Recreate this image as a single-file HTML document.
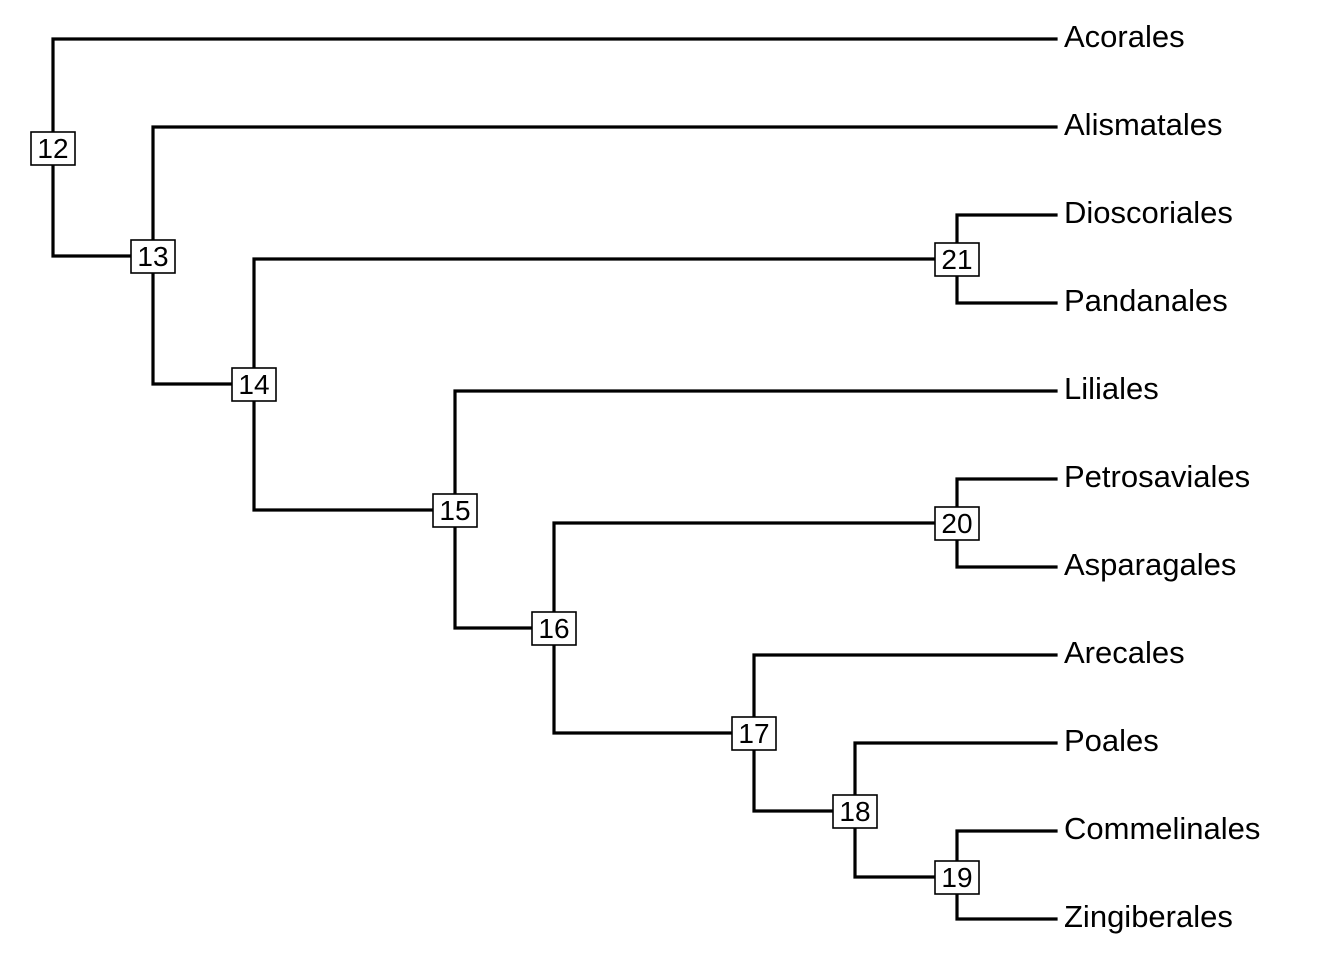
<!DOCTYPE html>
<html><head><meta charset="utf-8"><style>html,body{margin:0;padding:0;background:#fff}</style></head>
<body>
<svg width="1344" height="960" xmlns="http://www.w3.org/2000/svg">
<g stroke="#000" stroke-width="3.2" fill="none" stroke-linecap="square">
<path d="M1056,39 H53 V256 H153"/>
<path d="M1056,127 H153 V384 H254"/>
<path d="M956,259 H254 V510 H455"/>
<path d="M1056,215 H957 V303 H1056"/>
<path d="M1056,391 H455 V628 H554"/>
<path d="M956,523 H554 V733 H754"/>
<path d="M1056,479 H957 V567 H1056"/>
<path d="M1056,655 H754 V811 H855"/>
<path d="M1056,743 H855 V877 H957"/>
<path d="M1056,831 H957 V919 H1056"/>
</g>
<g font-family="Liberation Sans, sans-serif" font-size="28" text-anchor="middle">
<g fill="#fff" stroke="#000" stroke-width="1.6">
<rect x="31" y="132" width="44" height="33"/>
<rect x="131" y="240" width="44" height="33"/>
<rect x="232" y="368" width="44" height="33"/>
<rect x="433" y="494" width="44" height="33"/>
<rect x="532" y="612" width="44" height="33"/>
<rect x="732" y="717" width="44" height="33"/>
<rect x="833" y="795" width="44" height="33"/>
<rect x="935" y="861" width="44" height="33"/>
<rect x="935" y="507" width="44" height="33"/>
<rect x="935" y="243" width="44" height="33"/>
</g>
<text x="53" y="158">12</text>
<text x="153" y="266">13</text>
<text x="254" y="394">14</text>
<text x="455" y="520">15</text>
<text x="554" y="638">16</text>
<text x="754" y="743">17</text>
<text x="855" y="821">18</text>
<text x="957" y="887">19</text>
<text x="957" y="533">20</text>
<text x="957" y="269">21</text>
</g>
<g font-family="Liberation Sans, sans-serif" font-size="31" fill="#000">
<text x="1064" y="47">Acorales</text>
<text x="1064" y="135">Alismatales</text>
<text x="1064" y="223">Dioscoriales</text>
<text x="1064" y="311">Pandanales</text>
<text x="1064" y="399">Liliales</text>
<text x="1064" y="487">Petrosaviales</text>
<text x="1064" y="575">Asparagales</text>
<text x="1064" y="663">Arecales</text>
<text x="1064" y="751">Poales</text>
<text x="1064" y="839">Commelinales</text>
<text x="1064" y="927">Zingiberales</text>
</g>
</svg>
</body></html>
